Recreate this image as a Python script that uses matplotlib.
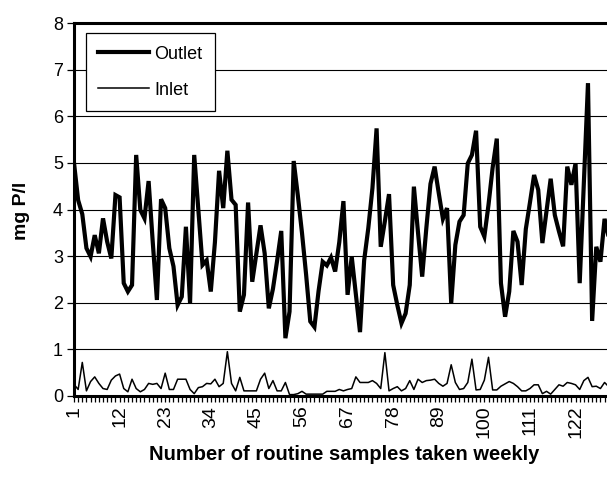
import numpy as np
import matplotlib.pyplot as plt
from matplotlib.ticker import MultipleLocator, FixedLocator

plt.rcParams['font.family'] = ['Liberation Sans', 'DejaVu Sans']

# --- data (mg P/l, one value per weekly sample) ---
outlet = [5.0, 4.2, 3.9, 3.17, 2.99, 3.45, 3.06, 3.81, 3.31, 2.95,
          4.31, 4.26, 2.42, 2.24, 2.38, 5.17, 3.99, 3.81, 4.61, 3.3,
          2.06, 4.22, 4.03, 3.17, 2.78, 1.95, 2.13, 3.63, 1.99, 5.17,
          4.0, 2.81, 2.91, 2.24, 3.3, 4.83, 4.03, 5.26, 4.21, 4.1,
          1.81, 2.17, 4.15, 2.45, 3.05, 3.66, 3.06, 1.88, 2.3, 2.9,
          3.54, 1.24, 1.81, 5.04, 4.3, 3.5, 2.6, 1.6, 1.48, 2.25,
          2.88, 2.8, 2.97, 2.67, 3.3, 4.18, 2.17, 2.99, 2.18, 1.37,
          2.91, 3.6, 4.46, 5.74, 3.2, 3.75, 4.33, 2.38, 1.95, 1.56,
          1.77, 2.38, 4.49, 3.5, 2.56, 3.6, 4.55, 4.92, 4.35, 3.8,
          4.03, 1.99, 3.24, 3.74, 3.88, 4.99, 5.17, 5.69, 3.63, 3.42,
          4.1, 4.9, 5.52, 2.42, 1.7, 2.24, 3.54, 3.31, 2.38, 3.58,
          4.15, 4.74, 4.42, 3.28, 3.97, 4.66, 3.88, 3.53, 3.21, 4.92,
          4.53, 4.99, 2.42, 4.55, 6.71, 1.61, 3.2, 2.88, 3.8, 3.4]

inlet = [0.25, 0.14, 0.72, 0.11, 0.31, 0.41, 0.27, 0.16, 0.14, 0.34,
         0.43, 0.47, 0.16, 0.09, 0.36, 0.16, 0.09, 0.14, 0.27, 0.25,
         0.27, 0.16, 0.49, 0.14, 0.14, 0.36, 0.36, 0.36, 0.14, 0.05,
         0.18, 0.2, 0.27, 0.26, 0.36, 0.2, 0.27, 0.95, 0.27, 0.11,
         0.4, 0.11, 0.11, 0.11, 0.11, 0.36, 0.49, 0.16, 0.33, 0.11,
         0.11, 0.29, 0.03, 0.03, 0.05, 0.1, 0.04, 0.04, 0.04, 0.04,
         0.04, 0.1, 0.1, 0.1, 0.14, 0.11, 0.14, 0.16, 0.41, 0.29,
         0.29, 0.29, 0.33, 0.27, 0.16, 0.93, 0.11, 0.16, 0.2, 0.11,
         0.16, 0.33, 0.14, 0.36, 0.29, 0.33, 0.34, 0.36, 0.27, 0.21,
         0.27, 0.67, 0.29, 0.14, 0.16, 0.29, 0.79, 0.13, 0.14, 0.34,
         0.83, 0.13, 0.13, 0.21, 0.26, 0.31, 0.27, 0.2, 0.11, 0.11,
         0.16, 0.24, 0.24, 0.05, 0.1, 0.04, 0.14, 0.24, 0.21, 0.29,
         0.27, 0.24, 0.14, 0.33, 0.4, 0.2, 0.21, 0.16, 0.29, 0.2]

tick_labels = [1, 12, 23, 34, 45, 56, 67, 78, 89, 100, 111, 122]

samples = np.arange(1, len(outlet) + 1)

fig = plt.figure(figsize=(6.07, 4.83), dpi=100)
# plot area runs past the right edge of the picture, as in the original
ax = fig.add_axes([74 / 607, 87 / 483, 543 / 607, 373 / 483])

ax.plot(samples, outlet, color='black', lw=3.0, solid_joinstyle='miter', label='Outlet', zorder=3)
ax.plot(samples, inlet, color='black', lw=1.1, label='Inlet', zorder=3)

ax.set_xlim(1, 132)
ax.set_ylim(0, 8)

for side in ['left', 'bottom', 'top']:
    ax.spines[side].set_linewidth(2.2)
ax.spines['right'].set_visible(False)

ax.yaxis.set_major_locator(MultipleLocator(1))
ax.yaxis.grid(True, color='black', lw=0.8)
ax.set_axisbelow(True)

ax.xaxis.set_major_locator(FixedLocator(tick_labels))
ax.xaxis.set_minor_locator(MultipleLocator(1))
ax.set_xticklabels([str(t) for t in tick_labels], rotation=90)

ax.tick_params(axis='x', which='both', length=4, width=0.9, direction='out', pad=3, labelsize=14)
ax.tick_params(axis='y', which='major', length=5, width=0.9, direction='out', pad=3, labelsize=13)

leg = ax.legend(loc='upper left', bbox_to_anchor=(0.0215, 0.973), borderaxespad=0,
                fontsize=13, handlelength=2.8, handletextpad=0.3, labelspacing=1.05,
                borderpad=0.7, fancybox=False, framealpha=1, edgecolor='black')
leg.get_frame().set_linewidth(0.9)

fig.text(344 / 607, 1 - 455 / 483, 'Number of routine samples taken weekly',
         ha='center', va='center', fontsize=14.5, fontweight='bold')
fig.text(22 / 607, 1 - 211 / 483, 'mg P/l', ha='center', va='center',
         rotation=90, fontsize=14, fontweight='bold')

fig.savefig('out.png', dpi=100)
